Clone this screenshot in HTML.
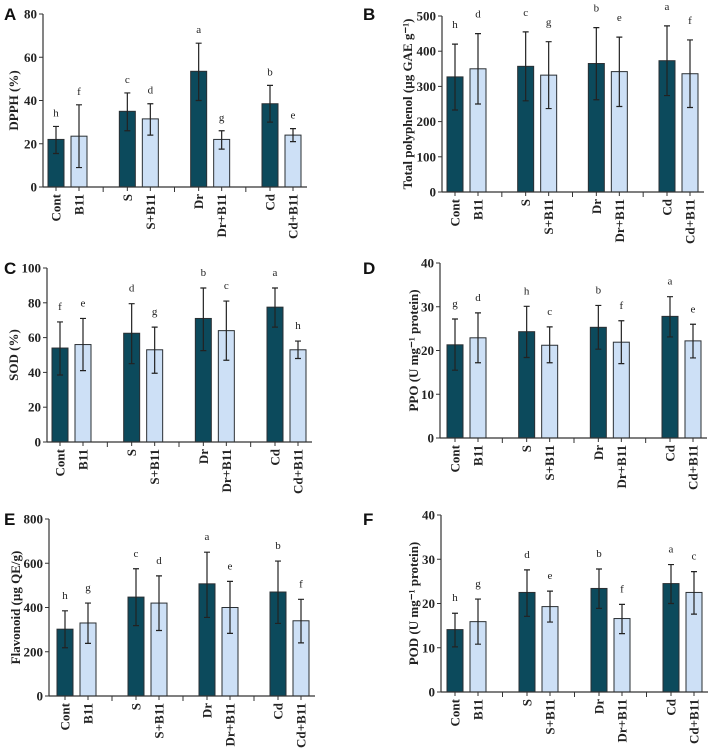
<!DOCTYPE html>
<html><head><meta charset="utf-8"><style>
body{margin:0;background:#fff;width:725px;height:750px;overflow:hidden}
svg{display:block}
text{font-family:"Liberation Serif",serif;font-weight:bold;fill:#222}
.pl{font-family:"Liberation Sans",sans-serif;font-size:17px;fill:#111}
</style></head><body>
<svg id="chart" width="725" height="750"></svg>
<script>
const categories=["Cont","B11","S","S+B11","Dr","Dr+B11","Cd","Cd+B11"];
const meansA=[22,23.5,35,31.5,53.5,22,38.5,24];
const upA=[28,38,43.5,38.5,66.5,26,47,27];
const loA=[15.5,9,26,24,40,17.5,30,21];
const lettersA=["h","f","c","d","a","g","b","e"];
const meansB=[327,350,357,332,365,342,373,336];
const upB=[420,450,455,427,467,440,472,432];
const loB=[233,250,259,237,262,243,274,240];
const lettersB=["h","d","c","g","b","e","a","f"];
const meansC=[54,56,62.5,53,71,64,77.5,53];
const upC=[69,71,79.5,66,88.5,81,88.5,58];
const loC=[38.5,41,45,39.5,52.5,47,66,48];
const lettersC=["f","e","d","g","b","c","a","h"];
const meansD=[21.3,22.9,24.3,21.2,25.3,21.9,27.8,22.2];
const upD=[27.2,28.6,30.1,25.4,30.3,26.8,32.3,26];
const loD=[15.5,17.2,18.4,17.2,20.3,17,23.1,18.3];
const lettersD=["g","d","h","c","b","f","a","e"];
const meansE=[302,330,447,420,507,400,470,340];
const upE=[385,420,575,543,650,518,610,437];
const loE=[218,238,318,296,355,283,328,240];
const lettersE=["h","g","c","d","a","e","b","f"];
const meansF=[14.1,15.9,22.5,19.3,23.4,16.6,24.5,22.5];
const upF=[17.8,21,27.6,22.8,27.8,19.8,28.8,27.2];
const loF=[10.2,10.8,17.1,15.8,18.9,13.2,20,17.6];
const lettersF=["h","g","d","e","b","f","a","c"];
const ticksA=[0,20,40,60,80], ticksB=[0,100,200,300,400,500], ticksC=[0,20,40,60,80,100],
      ticksD=[0,10,20,30,40], ticksE=[0,200,400,600,800], ticksF=[0,10,20,30,40];

const NS="http://www.w3.org/2000/svg";
const svg=document.getElementById('chart');
function mk(tag,attrs,parent,txt){const e=document.createElementNS(NS,tag);for(const k in attrs)e.setAttribute(k,attrs[k]);if(txt!==undefined)e.textContent=txt;(parent||svg).appendChild(e);return e;}

const panels=[
 {id:"A",means:meansA,up:upA,lo:loA,letters:lettersA,ticks:ticksA,ax:43,top:14,bot:187,xend:307,first:48,ylab:"DPPH (%)",ylx:13,plx:4,ply:20,loff:10},
 {id:"B",means:meansB,up:upB,lo:loB,letters:lettersB,ticks:ticksB,ax:442,top:16,bot:192,xend:704,first:447,ylab:"Total polyphenol (µg GAE g⁻¹)",ylx:407,plx:363,ply:20,loff:16},
 {id:"C",means:meansC,up:upC,lo:loC,letters:lettersC,ticks:ticksC,ax:47,top:268,bot:442,xend:312,first:52,ylab:"SOD (%)",ylx:13,plx:4,ply:274,loff:12},
 {id:"D",means:meansD,up:upD,lo:loD,letters:lettersD,ticks:ticksD,ax:440,top:263,bot:438,xend:707,first:447,ylab:"PPO (U mg⁻¹ protein)",ylx:413,plx:363,ply:274,loff:12},
 {id:"E",means:meansE,up:upE,lo:loE,letters:lettersE,ticks:ticksE,ax:49,top:519,bot:696,xend:315,first:57,ylab:"Flavonoid (µg QE/g)",ylx:15,plx:4,ply:525,loff:12},
 {id:"F",means:meansF,up:upF,lo:loF,letters:lettersF,ticks:ticksF,ax:441,top:515,bot:692,xend:708,first:447,ylab:"POD (U mg⁻¹ protein)",ylx:413,plx:363,ply:525,loff:12}
];
const dark="#0c4a5c", light="#cde0f6", stroke="#2a2f33";
panels.forEach(p=>{
  const g=mk('g',{},svg);
  
  
  const ymax=p.ticks[p.ticks.length-1];
  const y=v=>p.bot-(v/ymax)*(p.bot-p.top);
  const bw=16, inner=23, pitch=(p.xend-6-p.first-39)/3;
  const bx=i=>p.first+Math.floor(i/2)*pitch+(i%2)*inner;
  const pl=mk('text',{x:p.plx,y:p.ply,class:'pl'},g,p.id);
  
  
  // bars
  p.means.forEach((m,i)=>{
    const r=mk('rect',{x:bx(i),y:y(m),width:bw,height:p.bot-y(m),fill:i%2?light:dark,stroke:stroke,'stroke-width':1},g);
    
    
    const cx=bx(i)+bw/2;
    const eb=mk('path',{d:`M${cx},${y(p.lo[i])}V${y(p.up[i])}M${cx-3},${y(p.up[i])}H${cx+3}M${cx-3},${y(p.lo[i])}H${cx+3}`,stroke:'#222','stroke-width':1.2,fill:'none'},g);
    
    
    const lt=mk('text',{x:cx,y:y(p.up[i])-p.loff,'text-anchor':'middle','font-size':11,style:'font-weight:normal'},g,p.letters[i]);
    
    
    const tk=mk('line',{x1:cx,x2:cx,y1:p.bot,y2:p.bot+4,stroke:'#333','stroke-width':1},g);
    const xl=mk('text',{transform:`translate(${cx+4.5},${p.bot+7}) rotate(-90)`,'text-anchor':'end','font-size':13},g,categories[i]);
    
    
  });
  // group separators
  for(let k=1;k<4;k++){const sx=(bx(2*k-1)+bw+bx(2*k))/2;mk('line',{x1:sx,x2:sx,y1:p.bot,y2:p.bot+5,stroke:'#333'},g);}
  // axes
  const ya=mk('line',{x1:p.ax,x2:p.ax,y1:p.top,y2:p.bot,stroke:'#333','stroke-width':1.2},g);
  
  
  const xa=mk('line',{x1:p.ax,x2:p.xend,y1:p.bot,y2:p.bot,stroke:'#333','stroke-width':1.2},g);
  
  
  p.ticks.forEach(t=>{
    mk('line',{x1:p.ax-4,x2:p.ax,y1:y(t),y2:y(t),stroke:'#333'},g);
    const tl=mk('text',{x:p.ax-6,y:y(t)+4.5,'text-anchor':'end','font-size':13},g,t);
    
    
  });
  const yl=mk('text',{transform:`translate(${p.ylx+5},${(p.top+p.bot)/2}) rotate(-90)`,'text-anchor':'middle','font-size':13},g,p.ylab);
  
  
});
</script>
</body></html>
